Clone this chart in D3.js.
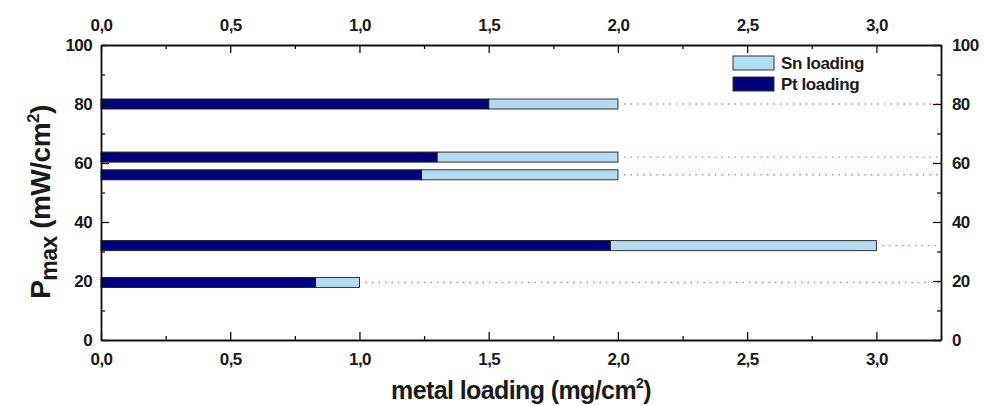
<!DOCTYPE html>
<html><head><meta charset="utf-8">
<script src="https://cdn.jsdelivr.net/npm/d3@7"></script>
<style>body{margin:0;background:#fff}svg{display:block}text{font-family:"Liberation Sans",Arial,sans-serif;fill:#1a1a1a;font-weight:bold}</style>
</head><body><svg id="c" width="986" height="406"></svg>
<script>
const pmax = [19.5, 32, 56, 62, 80];
const ptLoading = [0.83, 1.97, 1.24, 1.30, 1.50];
const snLoading = [0.17, 1.03, 0.76, 0.70, 0.50];
const xTicks = [0, 0.5, 1.0, 1.5, 2.0, 2.5, 3.0];
const yTicks = [0, 20, 40, 60, 80, 100];
const legendLabels = ["Sn loading", "Pt loading"];

const svg = d3.select("#c");
const L = 101, R = 941, T = 45, B = 340;
const x = d3.scaleLinear().domain([0, 3.25]).range([L, R]);
const y = d3.scaleLinear().domain([0, 100]).range([B, T]);
const fmt = d => d3.format(".1f")(d).replace(".", ",");
const ptColor = "#00007a", snColor = "#b3dcf2";
const barH = 10;

// dotted guide lines
svg.append("g").selectAll("line").data(pmax).join("line")
  .attr("x1", (d,i) => x(ptLoading[i] + snLoading[i]) + 6).attr("x2", R - 2)
  .attr("y1", d => y(d)).attr("y2", d => y(d))
  .attr("stroke", "#e07888").attr("stroke-width", 1.4).attr("stroke-dasharray", "1.5,5");

// bars
const bars = svg.append("g");
bars.selectAll(".sn").data(pmax).join("rect")
  .attr("x", (d,i) => x(ptLoading[i])).attr("y", d => y(d) - barH/2)
  .attr("width", (d,i) => x(ptLoading[i] + snLoading[i]) - x(ptLoading[i]))
  .attr("height", barH).attr("fill", snColor).attr("stroke", "#333").attr("stroke-width", 1);
bars.selectAll(".pt").data(pmax).join("rect")
  .attr("x", x(0)).attr("y", d => y(d) - barH/2)
  .attr("width", (d,i) => x(ptLoading[i]) - x(0))
  .attr("height", barH).attr("fill", ptColor).attr("stroke", "#222").attr("stroke-width", 1);

// axes
const minorX = d3.range(0, 3.26, 0.25);
const minorY = d3.range(0, 101, 10);
function axisG(axis, tr) { return svg.append("g").attr("transform", tr).call(axis); }
const styleAxis = (g, fs) => {
  g.select(".domain").attr("stroke", "#111").attr("stroke-width", 1.8);
  g.selectAll(".tick line").attr("stroke", "#111").attr("stroke-width", 1.3);
  g.selectAll("text").style("font-size", fs + "px").style("letter-spacing", "-0.6px").attr("fill", "#1a1a1a");
};
// bottom
let gb = axisG(d3.axisBottom(x).tickValues(minorX).tickSizeInner(-7).tickSizeOuter(0)
  .tickFormat(d => xTicks.some(t => Math.abs(t-d)<1e-6) ? fmt(d) : ""), `translate(0,${B})`);
gb.selectAll(".tick line").attr("y2", d => xTicks.some(t => Math.abs(t-d)<1e-6) ? -8 : -4);
gb.selectAll(".tick text").attr("y", 13);
styleAxis(gb, 17);
// top
let gt = axisG(d3.axisTop(x).tickValues(minorX).tickSizeInner(-7).tickSizeOuter(0)
  .tickFormat(d => xTicks.some(t => Math.abs(t-d)<1e-6) ? fmt(d) : ""), `translate(0,${T})`);
gt.selectAll(".tick line").attr("y2", d => xTicks.some(t => Math.abs(t-d)<1e-6) ? 8 : 4);
gt.selectAll(".tick text").attr("y", -14);
styleAxis(gt, 17);
// left
let gl = axisG(d3.axisLeft(y).tickValues(minorY).tickSizeOuter(0)
  .tickFormat(d => yTicks.includes(d) ? d : ""), `translate(${L},0)`);
gl.selectAll(".tick line").attr("x2", d => yTicks.includes(d) ? 8 : 4);
gl.selectAll(".tick text").attr("x", -9);
styleAxis(gl, 17);
// right
let gr = axisG(d3.axisRight(y).tickValues(minorY).tickSizeOuter(0)
  .tickFormat(d => yTicks.includes(d) ? d : ""), `translate(${R},0)`);
gr.selectAll(".tick line").attr("x2", d => yTicks.includes(d) ? -8 : -4);
gr.selectAll(".tick text").attr("x", 11);
styleAxis(gr, 17);

// legend
const leg = svg.append("g").attr("transform", "translate(733,56)");
[snColor, ptColor].forEach((c, i) => {
  leg.append("rect").attr("x", 0).attr("y", i*21).attr("width", 41).attr("height", 14)
    .attr("fill", c).attr("stroke", "#333").attr("stroke-width", 1);
  leg.append("text").attr("x", 48).attr("y", i*21 + 13).style("font-size", "17px").style("letter-spacing", "-0.4px").text(legendLabels[i]);
});

// axis titles
const xt = svg.append("text").attr("x", 521).attr("y", 399).attr("text-anchor", "middle").style("font-size", "25px").style("letter-spacing", "-0.6px");
xt.append("tspan").text("metal loading (mg/cm");
xt.append("tspan").attr("dy", -11).style("font-size", "14px").text("2");
xt.append("tspan").attr("dy", 11).text(")");

const yt = svg.append("text").attr("transform", "translate(50,202) rotate(-90)").attr("text-anchor", "middle").style("font-size", "28px").style("letter-spacing", "-0.5px");
yt.append("tspan").text("P");
yt.append("tspan").attr("dy", 7).style("font-size", "23px").text("max");
yt.append("tspan").attr("dy", -7).text(" (mW/cm");
yt.append("tspan").attr("dy", -11).style("font-size", "17px").text("2");
yt.append("tspan").attr("dy", 11).text(")");
</script></body></html>
